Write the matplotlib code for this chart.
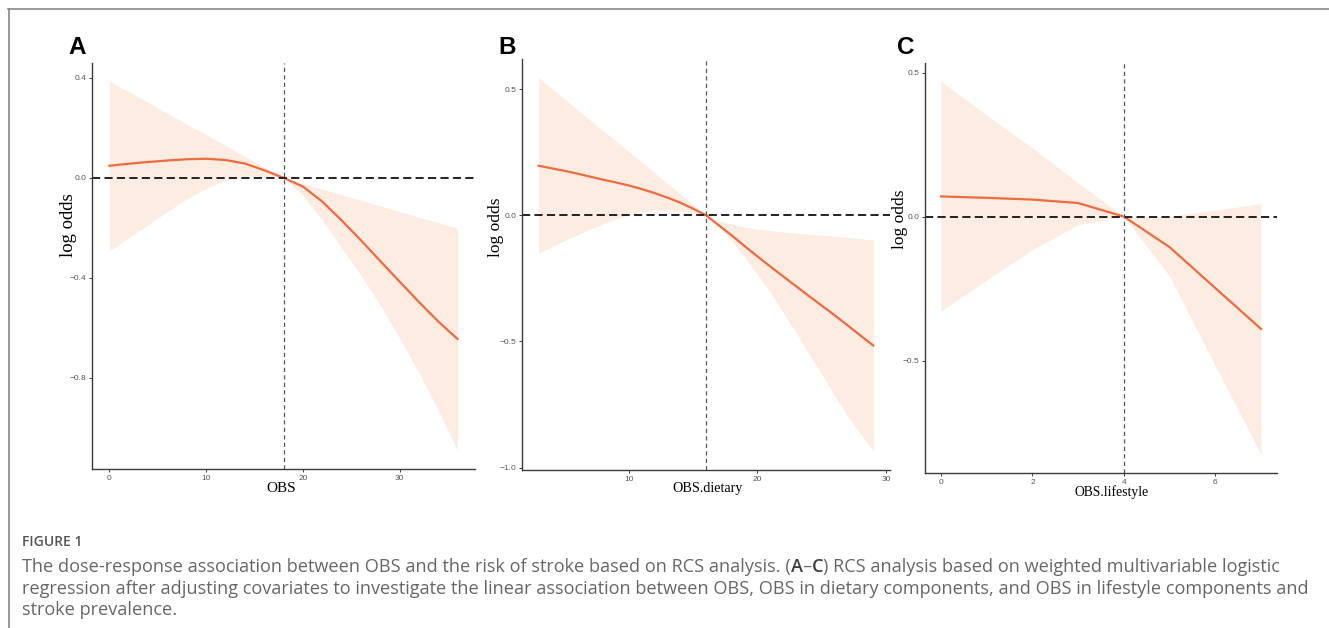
import numpy as np
import matplotlib
matplotlib.use('Agg')
import matplotlib.pyplot as plt
from matplotlib.lines import Line2D

# panel A: OBS
obs_x = [0, 2, 4, 6, 8, 10, 12, 14, 16, 18, 20, 22, 24, 26, 28, 30, 32, 34, 36]
obs_fit = [0.048, 0.056, 0.063, 0.069, 0.074, 0.076, 0.071, 0.057, 0.030, 0.0,
           -0.035, -0.095, -0.170, -0.250, -0.333, -0.415, -0.497, -0.575, -0.645]
obs_hi = [0.387, 0.344, 0.301, 0.258, 0.215, 0.172, 0.129, 0.086, 0.043, 0.0,
          -0.023, -0.045, -0.068, -0.090, -0.113, -0.135, -0.158, -0.180, -0.203]
obs_lo = [-0.293, -0.240, -0.188, -0.135, -0.085, -0.043, -0.010, 0.003, 0.003, 0.0,
          -0.070, -0.170, -0.280, -0.390, -0.510, -0.640, -0.780, -0.930, -1.090]

# panel B: OBS.dietary
diet_x = list(range(3, 30))
diet_fit = [0.196, 0.186, 0.176, 0.165, 0.153, 0.141, 0.130, 0.118, 0.104, 0.088,
            0.070, 0.050, 0.026, 0.0, -0.040, -0.080, -0.122, -0.163, -0.203, -0.242,
            -0.281, -0.320, -0.358, -0.396, -0.436, -0.476, -0.516]
diet_hi = [0.545, 0.503, 0.461, 0.419, 0.377, 0.335, 0.294, 0.252, 0.210, 0.168,
           0.126, 0.084, 0.042, 0.0, -0.022, -0.036, -0.047, -0.055, -0.061, -0.066,
           -0.071, -0.075, -0.079, -0.083, -0.088, -0.093, -0.098]
diet_lo = [-0.150, -0.125, -0.100, -0.077, -0.055, -0.034, -0.015, 0.002, 0.013, 0.019,
           0.020, 0.016, 0.009, 0.0, -0.045, -0.100, -0.165, -0.235, -0.305, -0.385,
           -0.465, -0.550, -0.630, -0.715, -0.795, -0.865, -0.935]

# panel C: OBS.lifestyle
life_x = [0, 1, 2, 3, 4, 5, 6, 7]
life_fit = [0.070, 0.065, 0.059, 0.047, 0.0, -0.106, -0.248, -0.390]
life_hi = [0.469, 0.352, 0.238, 0.117, 0.0, 0.001, 0.022, 0.045]
life_lo = [-0.328, -0.220, -0.115, -0.028, 0.0, -0.207, -0.517, -0.826]

panels = [
    dict(tag='A', x=obs_x, fit=obs_fit, hi=obs_hi, lo=obs_lo, ref=18, xlab='OBS',
         xticks=[0, 10, 20, 30], yticks=[-0.8, -0.4, 0.0, 0.4],
         xlim=(-1.8, 37.8), ylim=(-1.165, 0.459),
         box=(92, 63, 475, 469), ylab_x=-0.039, ylab_y=0.6, xlab_x=0.493, xlab_y=-0.032,
         xlab_fs=11, ylab_fs=13.5, tag_x=68),
    dict(tag='B', x=diet_x, fit=diet_fit, hi=diet_hi, lo=diet_lo, ref=16, xlab='OBS.dietary',
         xticks=[10, 20, 30], yticks=[-1.0, -0.5, 0.0, 0.5],
         xlim=(1.7, 30.3), ylim=(-1.009, 0.619),
         box=(522, 59, 890, 470), ylab_x=-0.05, ylab_y=0.59, xlab_x=0.505, xlab_y=-0.028,
         xlab_fs=10.2, ylab_fs=12.5, tag_x=498),
    dict(tag='C', x=life_x, fit=life_fit, hi=life_hi, lo=life_lo, ref=4, xlab='OBS.lifestyle',
         xticks=[0, 2, 4, 6], yticks=[-0.5, 0.0, 0.5],
         xlim=(-0.35, 7.35), ylim=(-0.89, 0.533),
         box=(925, 63, 1277, 473), ylab_x=-0.047, ylab_y=0.62, xlab_x=0.53, xlab_y=-0.029,
         xlab_fs=9.8, ylab_fs=12.5, tag_x=897),
]

W, H = 1329, 628
fig = plt.figure(figsize=(W / 100, H / 100), dpi=100)

line_col = '#EF6A3D'
band_col = '#FDECE2'

for p in panels:
    l, t, r, b = p['box']
    ax = fig.add_axes([l / W, 1 - b / H, (r - l) / W, (b - t) / H])
    ax.fill_between(p['x'], p['lo'], p['hi'], color=band_col, lw=0)
    ax.plot(p['x'], p['fit'], color=line_col, lw=1.6)
    ax.axhline(0, color='#222222', lw=1.4, dashes=(4.2, 2.2))
    ax.axvline(p['ref'], color='#555555', lw=0.9, dashes=(3.4, 2.6))
    ax.set_xlim(*p['xlim'])
    ax.set_ylim(*p['ylim'])
    ax.set_xticks(p['xticks'])
    ax.set_xticklabels([str(v) for v in p['xticks']])
    ax.set_yticks(p['yticks'])
    ax.set_yticklabels(['%.1f' % v if v >= 0 else '\u2212%.1f' % -v for v in p['yticks']])
    for s in ['top', 'right']:
        ax.spines[s].set_visible(False)
    for s in ['left', 'bottom']:
        ax.spines[s].set_color('#3a3a3a')
        ax.spines[s].set_linewidth(1.0)
    ax.tick_params(length=2.5, width=0.7, color='#3a3a3a', labelcolor='#555555',
                   labelsize=6, pad=1.5)
    for lab in ax.get_xticklabels() + ax.get_yticklabels():
        lab.set_family('Liberation Sans')
    ax.set_xlabel(p['xlab'], family='Liberation Serif', fontsize=p['xlab_fs'])
    ax.set_ylabel('log odds', family='Liberation Serif', fontsize=p['ylab_fs'])
    ax.xaxis.set_label_coords(p['xlab_x'], p['xlab_y'])
    ax.yaxis.set_label_coords(p['ylab_x'], p['ylab_y'])
    fig.text(p['tag_x'] / W, 1 - 53.5 / H, p['tag'], family='Liberation Sans',
             fontweight='bold', fontsize=17.5, va='baseline', ha='left')

# outer frame lines
fig.add_artist(Line2D([8 / W, 1], [1 - 8.5 / H, 1 - 8.5 / H], transform=fig.transFigure,
                      color='#888888', lw=1.2))
fig.add_artist(Line2D([8.5 / W, 8.5 / W], [0, 1 - 8.5 / H], transform=fig.transFigure,
                      color='#888888', lw=1.2))

# caption
cap_col = '#666666'
cap_font = 'Open Sans'
cap_size = 13.1
fig.text(22 / W, 1 - 546 / H, 'FIGURE 1', family=cap_font, fontsize=10,
         fontweight='semibold', color='#555555', va='baseline')

renderer = fig.canvas.get_renderer()
x0 = 22
pieces = [
    ('The dose-response association between OBS and the risk of stroke based on RCS analysis. (', False),
    ('A', True), ('\u2013', False), ('C', True),
    (') RCS analysis based on weighted multivariable logistic', False),
]
for s, bold in pieces:
    t = fig.text(x0 / W, 1 - 572 / H, s, family=cap_font, fontsize=cap_size,
                 color='#3d3d3d' if bold else cap_col,
                 fontweight='semibold' if bold else 'normal', va='baseline')
    x0 = t.get_window_extent(renderer).x1
fig.text(22 / W, 1 - 594 / H,
         'regression after adjusting covariates to investigate the linear association between OBS, '
         'OBS in dietary components, and OBS in lifestyle components and',
         family=cap_font, fontsize=cap_size, color=cap_col, va='baseline')
fig.text(22 / W, 1 - 615 / H, 'stroke prevalence.', family=cap_font, fontsize=cap_size,
         color=cap_col, va='baseline')

fig.savefig('out.png', dpi=100)
